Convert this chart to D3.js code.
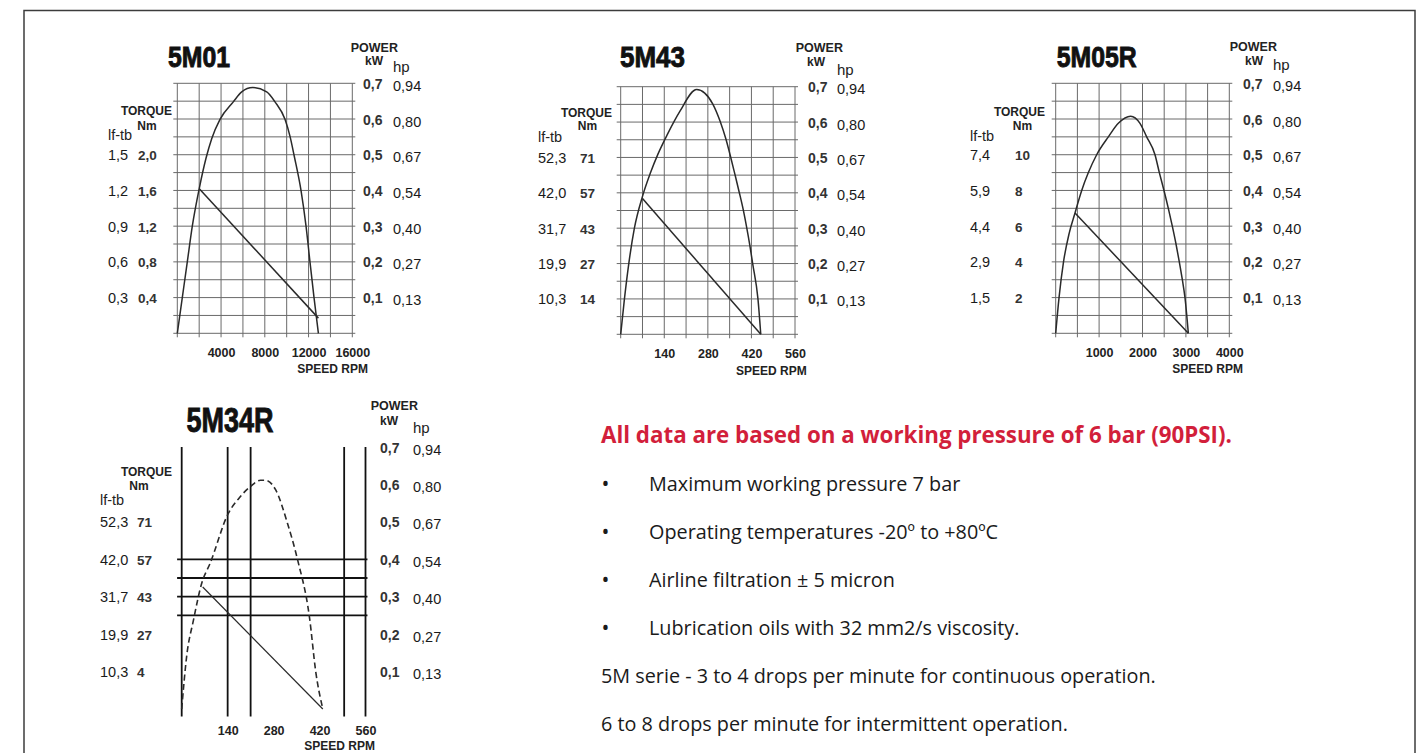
<!DOCTYPE html>
<html>
<head>
<meta charset="utf-8">
<script src="https://cdn.jsdelivr.net/npm/d3@7"></script>
<style>
  body { margin: 0; background: #fff; }
  svg text { font-family: "Liberation Sans", Arial, sans-serif; }
  svg text.note { font-family: "Open Sans", sans-serif; }
</style>
</head>
<body>
<div id="chart"></div>
<script>
// ---- shared tick labels ----
const powerTicks = [0.7, 0.6, 0.5, 0.4, 0.3, 0.2, 0.1];
const kwLabels = ["0,7", "0,6", "0,5", "0,4", "0,3", "0,2", "0,1"];
const hpLabels = ["0,94", "0,80", "0,67", "0,54", "0,40", "0,27", "0,13"];
const torqueTicks = [0.5, 0.4, 0.3, 0.2, 0.1]; // torque labels sit on these power lines

// ---- 5M01 ----
const rpm5M01 = [0, 457, 914, 1372, 2011, 2624, 3145, 3904, 5120, 5888, 6894, 8174, 8933, 9847, 10300, 10700, 11310, 11770, 12130, 12500, 12900];
const power5M01 = [0, 0.1, 0.2, 0.3, 0.406, 0.49, 0.545, 0.599, 0.648, 0.676, 0.688, 0.676, 0.648, 0.599, 0.552, 0.495, 0.4, 0.3, 0.2, 0.1, 0];
const torqueRpm5M01 = [2011, 12900];
const torque5M01 = [1.62, 0.17];
const speedTicks5M01 = [4000, 8000, 12000, 16000];
const lftb5M01 = ["1,5", "1,2", "0,9", "0,6", "0,3"];
const nm5M01 = ["2,0", "1,6", "1,2", "0,8", "0,4"];

// ---- 5M43 ----
const rpm5M43 = [0, 12, 26, 44, 70, 95, 120, 150, 190, 244, 270, 296, 320, 338, 353, 367, 381, 394, 405, 415, 424, 441, 450];
const power5M43 = [0, 0.1, 0.2, 0.3, 0.39, 0.455, 0.51, 0.565, 0.63, 0.692, 0.682, 0.651, 0.601, 0.552, 0.502, 0.452, 0.401, 0.351, 0.301, 0.251, 0.2, 0.1, 0];
const torqueRpm5M43 = [70, 450];
const torque5M43 = [54.5, 0];
const speedTicks5M43 = [140, 280, 420, 560];
const lftb5M43 = ["52,3", "42,0", "31,7", "19,9", "10,3"];
const nm5M43 = ["71", "57", "43", "27", "14"];

// ---- 5M05R ----
const rpm5M05R = [0, 77, 180, 310, 445, 599, 753, 944, 1213, 1443, 1727, 1942, 2096, 2288, 2388, 2495, 2595, 2687, 2772, 2848, 2918, 2979, 3056];
const power5M05R = [0, 0.1, 0.2, 0.28, 0.337, 0.4, 0.45, 0.5, 0.55, 0.588, 0.608, 0.588, 0.55, 0.5, 0.45, 0.4, 0.35, 0.3, 0.25, 0.2, 0.15, 0.1, 0];
const torqueRpm5M05R = [445, 3056];
const torque5M05R = [6.74, 0];
const speedTicks5M05R = [1000, 2000, 3000, 4000];
const lftb5M05R = ["7,4", "5,9", "4,4", "2,9", "1,5"];
const nm5M05R = ["10", "8", "6", "4", "2"];

// ---- 5M34R ----
const rpm5M34R = [0, 15, 36, 61, 87, 140, 179, 210, 240, 256, 286, 322, 353, 389, 409, 430];
const power5M34R = [0, 0.14, 0.238, 0.336, 0.39, 0.519, 0.568, 0.595, 0.611, 0.611, 0.586, 0.497, 0.399, 0.247, 0.096, 0];
const torqueRpm5M34R = [64, 430];
const torque5M34R = [46.3, 0];
const speedTicks5M34R = [140, 280, 420, 560];
const lftb5M34R = ["52,3", "42,0", "31,7", "19,9", "10,3"];
const nm5M34R = ["71", "57", "43", "27", "4"];
const vGrid5M34R = [0, 140, 210, 495, 560];
const hGrid5M34R = [0.4, 0.35, 0.3, 0.25];

// ---- notes ----
const noteTitle = "All data are based on a working pressure of 6 bar (90PSI).";
const noteBullets = ["Maximum working pressure 7 bar", "Operating temperatures -20º to +80ºC",
  "Airline filtration ± 5 micron", "Lubrication oils with 32 mm2/s viscosity."];
const noteLines = ["5M serie - 3 to 4 drops per minute for continuous operation.",
  "6 to 8 drops per minute for intermittent operation."];

const svg = d3.select("#chart").append("svg")
    .attr("width", 1427)
    .attr("height", 753);

// page frame
svg.append("rect")
    .attr("x", 24).attr("y", 10.5)
    .attr("width", 1391).attr("height", 780)
    .attr("fill", "none")
    .attr("stroke", "#3c3c3c")
    .attr("stroke-width", 1.5);

const panels = [
  { title: "5M01", rpm: rpm5M01, power: power5M01, tRpm: torqueRpm5M01, torque: torque5M01, nmMax: 2.8,
    xMax: 16000, speedTicks: speedTicks5M01, lftb: lftb5M01, nm: nm5M01,
    left: 177.3, right: 352.3, top: 83.3, bottom: 333.3,
    titleX: 199, titleY: 66.5, titleSize: 29, titleW: 62,
    lftbX: 108, nmX: 138, torqueEnd: 172, torqueY: 115, nmHeadX: 147, nmHeadY: 130, lftbHeadY: 140,
    kwX: 363, hpX: 393, powerEnd: 398, powerY: 51.5, kwHeadEnd: 383, kwHeadY: 65, hpHeadY: 72,
    tickY: 356.5, speedEnd: 368, speedY: 373 },
  { title: "5M43", rpm: rpm5M43, power: power5M43, tRpm: torqueRpm5M43, torque: torque5M43, nmMax: 99.4,
    xMax: 560, speedTicks: speedTicks5M43, lftb: lftb5M43, nm: nm5M43,
    left: 620.7, right: 795, top: 86.7, bottom: 334.3,
    titleX: 652.5, titleY: 67.3, titleSize: 29, titleW: 65,
    lftbX: 538, nmX: 580, torqueEnd: 612, torqueY: 117, nmHeadX: 587.5, nmHeadY: 130, lftbHeadY: 141.5,
    kwX: 808, hpX: 837, powerEnd: 843, powerY: 51.7, kwHeadEnd: 825, kwHeadY: 65.7, hpHeadY: 75,
    tickY: 358, speedEnd: 806.7, speedY: 375 },
  { title: "5M05R", rpm: rpm5M05R, power: power5M05R, tRpm: torqueRpm5M05R, torque: torque5M05R, nmMax: 14,
    xMax: 4000, speedTicks: speedTicks5M05R, lftb: lftb5M05R, nm: nm5M05R,
    left: 1055.7, right: 1229.3, top: 83.3, bottom: 333.3,
    titleX: 1096.7, titleY: 67, titleSize: 29, titleW: 80,
    lftbX: 970, nmX: 1015, torqueEnd: 1045, torqueY: 116, nmHeadX: 1022.5, nmHeadY: 130, lftbHeadY: 141,
    kwX: 1243, hpX: 1273, powerEnd: 1277, powerY: 51, kwHeadEnd: 1263, kwHeadY: 65, hpHeadY: 70,
    tickY: 356.5, speedEnd: 1243, speedY: 373 },
  { title: "5M34R", rpm: rpm5M34R, power: power5M34R, tRpm: torqueRpm5M34R, torque: torque5M34R, nmMax: 99.4,
    xMax: 560, speedTicks: speedTicks5M34R, lftb: lftb5M34R, nm: nm5M34R,
    vGrid: vGrid5M34R, hGrid: hGrid5M34R, dashed: true,
    left: 181.7, right: 365.5, top: 447, bottom: 709,
    titleX: 230, titleY: 431.5, titleSize: 35, titleW: 87,
    lftbX: 100, nmX: 137, torqueEnd: 172, torqueY: 476, nmHeadX: 139, nmHeadY: 490, lftbHeadY: 505,
    kwX: 380, hpX: 413, powerEnd: 418, powerY: 410, kwHeadEnd: 398, kwHeadY: 425, hpHeadY: 432.7,
    tickY: 735, speedEnd: 375, speedY: 749.5 }
];

panels.forEach(p => drawPanel(p));

function drawPanel(p) {
    let g = svg.append("g");

    let x = d3.scaleLinear().domain([0, p.xMax]).range([p.left, p.right]);
    let y = d3.scaleLinear().domain([0, 0.7]).range([p.bottom, p.top]);
    let yTorque = d3.scaleLinear().domain([0, p.nmMax]).range([p.bottom, p.top]);

    // grid
    if (!p.dashed) {
        let vLines = d3.range(9).map(i => i * p.xMax / 8);
        let hLines = d3.range(15).map(i => i * 0.05);
        g.selectAll(".v").data(vLines).enter().append("line")
            .attr("x1", d => x(d)).attr("x2", d => x(d))
            .attr("y1", y(0.7)).attr("y2", y(0) + 4)
            .attr("stroke", "#6a6a6a").attr("stroke-width", 1);
        g.selectAll(".h").data(hLines).enter().append("line")
            .attr("x1", x(0) - 4).attr("x2", x(p.xMax) + 3)
            .attr("y1", d => y(d)).attr("y2", d => y(d))
            .attr("stroke", "#6a6a6a").attr("stroke-width", 1);
    } else {
        g.selectAll(".v").data(p.vGrid).enter().append("line")
            .attr("x1", d => x(d)).attr("x2", d => x(d))
            .attr("y1", y(0.7)).attr("y2", y(-0.02))
            .attr("stroke", "#111").attr("stroke-width", 1.8);
        g.selectAll(".h").data(p.hGrid).enter().append("line")
            .attr("x1", x(-14)).attr("x2", x(566))
            .attr("y1", d => y(d)).attr("y2", d => y(d))
            .attr("stroke", "#111").attr("stroke-width", 1.8);
    }

    // power curve
    let powerData = p.rpm.map((r, i) => ({ rpm: r, kw: p.power[i] }));
    let powerLine = d3.line()
        .x(d => x(d.rpm))
        .y(d => y(d.kw))
        .curve(d3.curveMonotoneX);
    g.append("path")
        .datum(powerData)
        .attr("d", powerLine)
        .attr("fill", "none")
        .attr("stroke", "#2a2a2a")
        .attr("stroke-width", p.dashed ? 1.6 : 1.5)
        .attr("stroke-dasharray", p.dashed ? "6,3.5" : null);

    // torque line
    let torqueData = p.tRpm.map((r, i) => ({ rpm: r, nm: p.torque[i] }));
    let torqueLine = d3.line()
        .x(d => x(d.rpm))
        .y(d => yTorque(d.nm));
    g.append("path")
        .datum(torqueData)
        .attr("d", torqueLine)
        .attr("fill", "none")
        .attr("stroke", "#2a2a2a")
        .attr("stroke-width", p.dashed ? 1.2 : 1.5);

    // title
    g.append("text")
        .attr("x", p.titleX).attr("y", p.titleY)
        .attr("text-anchor", "middle")
        .attr("textLength", p.titleW)
        .attr("lengthAdjust", "spacingAndGlyphs")
        .style("font-family", "'Liberation Sans Narrow', 'Liberation Sans', sans-serif")
        .style("font-weight", "bold")
        .style("font-size", p.titleSize + "px")
        .attr("fill", "#111")
        .attr("stroke", "#111")
        .attr("stroke-width", 0.9)
        .text(p.title);

    // speed axis
    let xAxis = d3.axisBottom(x).tickValues(p.speedTicks).tickFormat(d3.format("d")).tickSize(0).tickPadding(0);
    let xg = g.append("g").attr("transform", "translate(0," + p.tickY + ")").call(xAxis);
    xg.select(".domain").remove();
    xg.selectAll("text")
        .attr("dy", 0).attr("y", 0)
        .attr("fill", "#222")
        .style("font-size", "12.5px")
        .style("font-weight", "bold")
        .style("font-family", "'Liberation Sans', Arial, sans-serif");

    // right axes: kW and hp
    addColumn(g, y, powerTicks, kwLabels, p.kwX, 5, "14px", "bold", "#333");
    addColumn(g, y, powerTicks, hpLabels, p.hpX, 7, "14.5px", "normal", "#1a1a1a");

    // left axes: lf-tb and Nm
    addColumn(g, y, torqueTicks, p.lftb, p.lftbX, 5, "14.5px", "normal", "#1a1a1a");
    addColumn(g, y, torqueTicks, p.nm, p.nmX, 5, "13.5px", "bold", "#333");

    // headings
    let heads = [
        { t: "POWER", x: p.powerEnd, y: p.powerY, a: "end", s: "12.5px", w: "bold" },
        { t: "kW", x: p.kwHeadEnd, y: p.kwHeadY, a: "end", s: "12px", w: "bold" },
        { t: "hp", x: p.hpX, y: p.hpHeadY, a: "start", s: "15px", w: "normal" },
        { t: "TORQUE", x: p.torqueEnd, y: p.torqueY, a: "end", s: "12px", w: "bold" },
        { t: "Nm", x: p.nmHeadX, y: p.nmHeadY, a: "middle", s: "12px", w: "bold" },
        { t: "lf-tb", x: p.lftbX, y: p.lftbHeadY, a: "start", s: "14.5px", w: "normal" },
        { t: "SPEED RPM", x: p.speedEnd, y: p.speedY, a: "end", s: "12px", w: "bold" }
    ];
    g.selectAll(".head").data(heads).enter().append("text")
        .attr("x", d => d.x).attr("y", d => d.y)
        .attr("text-anchor", d => d.a)
        .style("font-size", d => d.s)
        .style("font-weight", d => d.w)
        .attr("fill", "#222")
        .text(d => d.t);
}

function addColumn(g, scale, ticks, labels, xPos, dy, size, weight, color) {
    let axis = d3.axisRight(scale)
        .tickValues(ticks)
        .tickFormat((d, i) => labels[i])
        .tickSize(0)
        .tickPadding(0);
    let ag = g.append("g").attr("transform", "translate(" + xPos + ",0)").call(axis);
    ag.select(".domain").remove();
    ag.selectAll("text")
        .attr("dy", dy)
        .attr("x", 0)
        .attr("text-anchor", "start")
        .attr("fill", color)
        .style("font-size", size)
        .style("font-weight", weight)
        .style("font-family", "'Liberation Sans', Arial, sans-serif");
}

// ---- notes block ----
let notes = svg.append("g");

// pick a font size so a text spans the width it has in the original
function fitSize(sel, target, base) {
    let w = sel.node().getComputedTextLength();
    return base * target / w;
}

let head = notes.append("text")
    .attr("class", "note")
    .attr("x", 601).attr("y", 443)
    .attr("fill", "#d21f3b")
    .style("font-size", "18px")
    .style("font-weight", "bold")
    .text(noteTitle);
head.style("font-size", fitSize(head, 631, 18) + "px");

let lines = notes.selectAll(".ltext").data(noteLines).enter().append("text")
    .attr("class", "note")
    .attr("x", 601).attr("y", (d, i) => 683 + i * 47.5)
    .attr("fill", "#1a1a1a")
    .style("font-size", "17px")
    .text(d => d);
let bodySize = fitSize(d3.select(lines.nodes()[0]), 555, 17);
lines.style("font-size", bodySize + "px");

notes.selectAll(".bullet").data(noteBullets).enter().append("text")
    .attr("class", "note")
    .attr("x", 601.5).attr("y", (d, i) => 491 + i * 48)
    .attr("fill", "#1a1a1a")
    .style("font-size", "21px")
    .text("•");

notes.selectAll(".btext").data(noteBullets).enter().append("text")
    .attr("class", "note")
    .attr("x", 649).attr("y", (d, i) => 491 + i * 48)
    .attr("fill", "#1a1a1a")
    .style("font-size", bodySize + "px")
    .text(d => d);
</script>
</body>
</html>
